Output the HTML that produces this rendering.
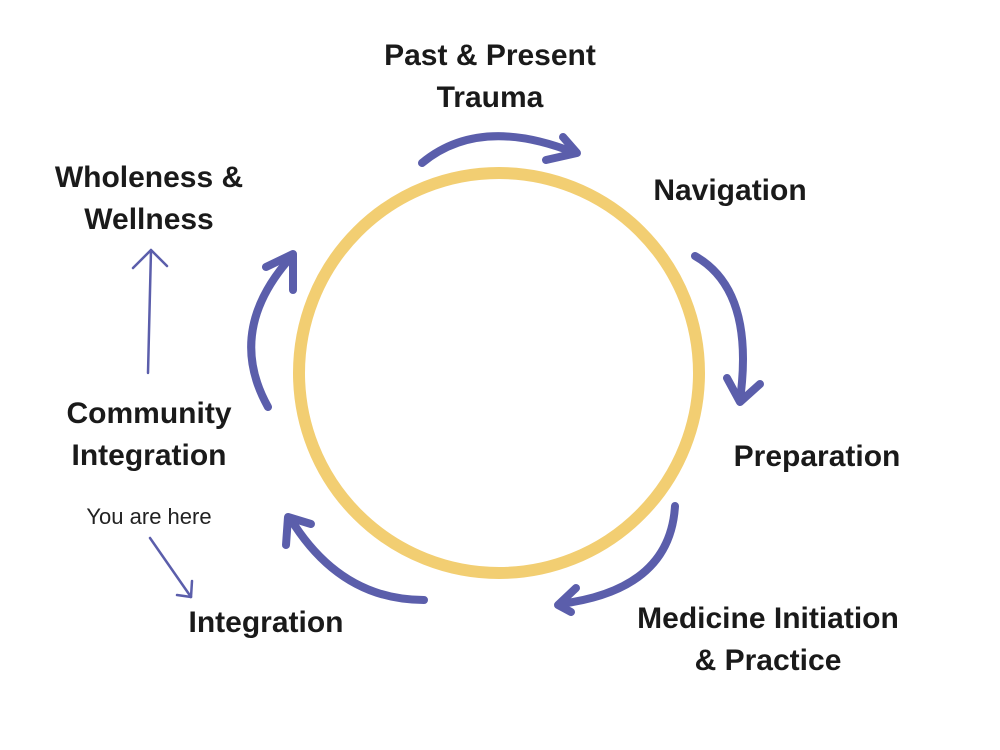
<!DOCTYPE html>
<html><head><meta charset="utf-8"><style>
html,body{margin:0;padding:0;background:#fff;}
svg{display:block}
text{font-family:"Liberation Sans",sans-serif;fill:#1a1a1a;}
.l{font-size:30px;font-weight:bold;}
</style></head><body>
<svg width="1000" height="750" viewBox="0 0 1000 750" xmlns="http://www.w3.org/2000/svg">
<circle cx="499" cy="373" r="200" fill="none" stroke="#F2CE72" stroke-width="12"/>
<g fill="none" stroke="#5B5EAB" stroke-width="8" stroke-linecap="round" stroke-linejoin="round">
<path d="M422,163 Q480,115 575,153"/>
<path d="M563,137 L577,153 L546,160"/>
<path d="M695,256 Q755,290 740,400"/>
<path d="M727,378 L740,402 L760,384"/>
<path d="M675,506 Q670,590 560,604"/>
<path d="M576,588 L558,605 L571,612"/>
<path d="M424,600 Q340,600 290,518"/>
<path d="M286,545 L288,517 L311,524"/>
<path d="M268,407 Q225,330 292,256"/>
<path d="M266,267 L293,254 L293,290"/>
</g>
<g fill="none" stroke="#5B5EAB" stroke-width="2.5" stroke-linecap="round" stroke-linejoin="round">
<path d="M148,373 L151,250"/>
<path d="M133,268 L151,250 L167,266"/>
<path d="M150,538 L191,597"/>
<path d="M177,595 L191,597 L192,581"/>
</g>
<text class="l" x="490" y="65" text-anchor="middle">Past &amp; Present</text>
<text class="l" x="490" y="107" text-anchor="middle">Trauma</text>
<text class="l" x="730" y="200" text-anchor="middle">Navigation</text>
<text class="l" x="817" y="466" text-anchor="middle">Preparation</text>
<text class="l" x="768" y="628" text-anchor="middle">Medicine Initiation</text>
<text class="l" x="768" y="670" text-anchor="middle">&amp; Practice</text>
<text class="l" x="266" y="632" text-anchor="middle">Integration</text>
<text class="l" x="149" y="423" text-anchor="middle">Community</text>
<text class="l" x="149" y="465" text-anchor="middle">Integration</text>
<text class="l" x="149" y="187" text-anchor="middle">Wholeness &amp;</text>
<text class="l" x="149" y="229" text-anchor="middle">Wellness</text>
<text x="149" y="524" text-anchor="middle" style="font-size:22px;fill:#222">You are here</text>
</svg>
</body></html>
